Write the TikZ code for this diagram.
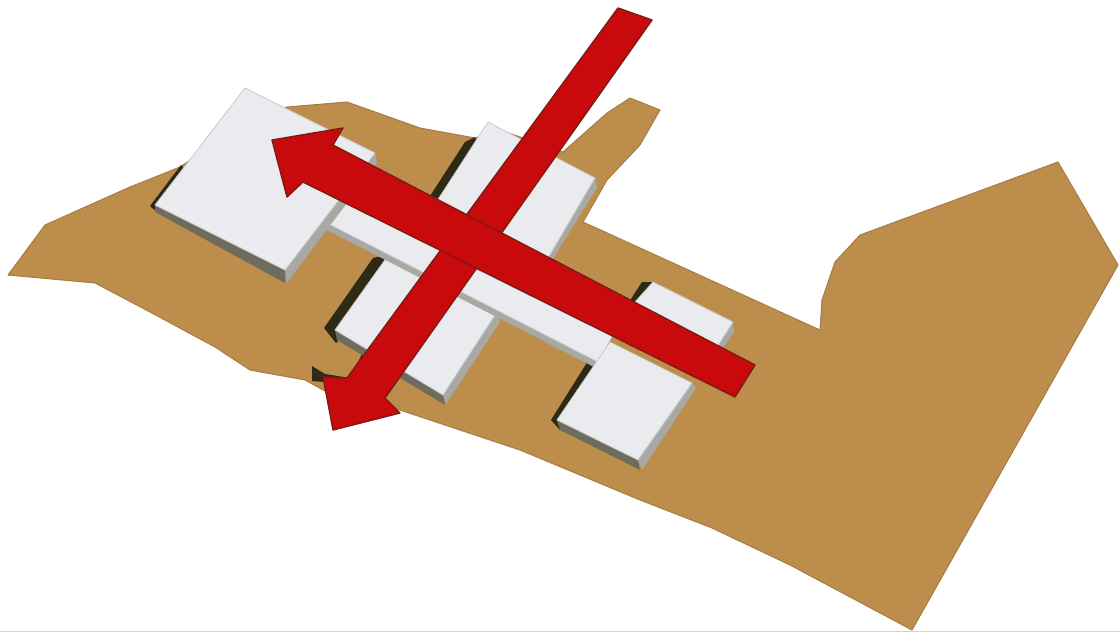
\documentclass[tikz,border=0pt]{standalone}
\definecolor{ground}{HTML}{BD8E4B}
\definecolor{groundedge}{HTML}{A67C42}
\definecolor{slab}{HTML}{E9EBEF}
\definecolor{slabside}{HTML}{A9A9A4}
\definecolor{slabdark}{HTML}{6F6C5E}
\definecolor{shade}{HTML}{2E2A16}
\definecolor{redarrow}{HTML}{C90A0D}
\definecolor{rededge}{HTML}{7E1A12}
\tikzset{
 groundshape/.style={fill=ground,draw=groundedge,line width=1pt,line join=round},
 slabtop/.style={fill=slab,draw=slab!70!gray,line width=0.8pt,line join=round},
 slabface/.style={fill=slabside,draw=none},
 darkface/.style={fill=slabdark,draw=none},
 shadowshape/.style={fill=shade,draw=none},
 arrowshape/.style={fill=redarrow,draw=rededge,line width=1.4pt,line join=round}
}
\begin{document}
\begin{tikzpicture}[x=1pt,y=-1pt]
\useasboundingbox[fill=white] (0,0) rectangle (1120,632);
\draw[gray!35,line width=1pt] (0,631) -- (1120,631);
% ground
\path[groundshape] (8,275) -- (95,283) -- (150,312) -- (215,347) -- (250,370) -- (305,380) -- (345,402)
 -- (400,410) -- (520,450) -- (640,500) -- (712,528) -- (790,565) -- (912,630) -- (1118,265) -- (1058,162)
 -- (860,235) -- (835,262) -- (822,300) -- (820,330) -- (583,222) -- (607,180) -- (640,145) -- (660,110)
 -- (630,98) -- (607,113) -- (563,152) -- (500,130) -- (475,138) -- (420,128) -- (347,102) -- (287,107)
 -- (235,130) -- (180,167) -- (130,187) -- (45,225) -- cycle;
% shadows
\fill[shadowshape] (181,165) -- (150,206) -- (158,213) -- (186,170) -- cycle;
\fill[shadowshape] (475,137) -- (465,142) -- (430,196) -- (442,200) -- (478,145) -- cycle;
\fill[shadowshape] (385,255) -- (373,258) -- (324,328) -- (336,343) -- (345,335) -- (337,329) -- (392,262) -- cycle;
\fill[shadowshape] (340,342) -- (365,348) -- (350,378) -- (325,374) -- (312,366) -- (312,381) -- (352,384) -- (372,352) -- (345,334) -- cycle;
\fill[shadowshape] (610,342) -- (598,345) -- (551,420) -- (560,430) -- (618,350) -- cycle;
\fill[shadowshape] (653,282) -- (642,282) -- (629,302) -- (640,306) -- (660,285) -- cycle;
% right-hand small slab
\path[slabface] (733,322) -- (715,350) -- (716,358) -- (734,332) -- cycle;
\path[slabtop] (653,282) -- (733,322) -- (710,358) -- (635,302) -- cycle;
% lower slab
\path[darkface] (335,330) -- (443,395) -- (445,405) -- (337,340) -- cycle;
\path[slabface] (497,312) -- (443,395) -- (446,404) -- (500,322) -- cycle;
\path[slabtop] (387,257) -- (497,312) -- (443,395) -- (335,330) -- cycle;
% upper slab
\path[slabface] (595,178) -- (548,258) -- (551,262) -- (597,188) -- cycle;
\path[slabtop] (488,122) -- (595,178) -- (548,258) -- (437,201) -- cycle;
% long bar
\path[slabface] (325,222) -- (598,362) -- (598,369) -- (325,229) -- cycle;
\path[slabtop] (345,190) -- (620,322) -- (598,362) -- (325,222) -- cycle;
% large slab at left
\path[darkface] (155,205) -- (285,270) -- (285,283) -- (155,212) -- cycle;
\path[slabface] (285,270) -- (375,153) -- (377,163) -- (287,283) -- cycle;
\path[slabtop] (245,88) -- (375,153) -- (285,270) -- (155,205) -- cycle;
% large slab at lower right
\path[darkface] (557,420) -- (638,460) -- (640,470) -- (560,430) -- cycle;
\path[slabface] (692,383) -- (638,460) -- (642,470) -- (696,388) -- cycle;
\path[slabtop] (610,342) -- (692,383) -- (638,460) -- (557,420) -- cycle;
% arrows
\path[arrowshape] (618,8) -- (652,20) -- (385,398) -- (400,413) -- (333,430) -- (323,377) -- (347,378) -- cycle;
\path[arrowshape] (755,365) -- (735,397) -- (303,182) -- (287,197) -- (272,140) -- (343,128) -- (333,145) -- cycle;
\end{tikzpicture}
\end{document}
